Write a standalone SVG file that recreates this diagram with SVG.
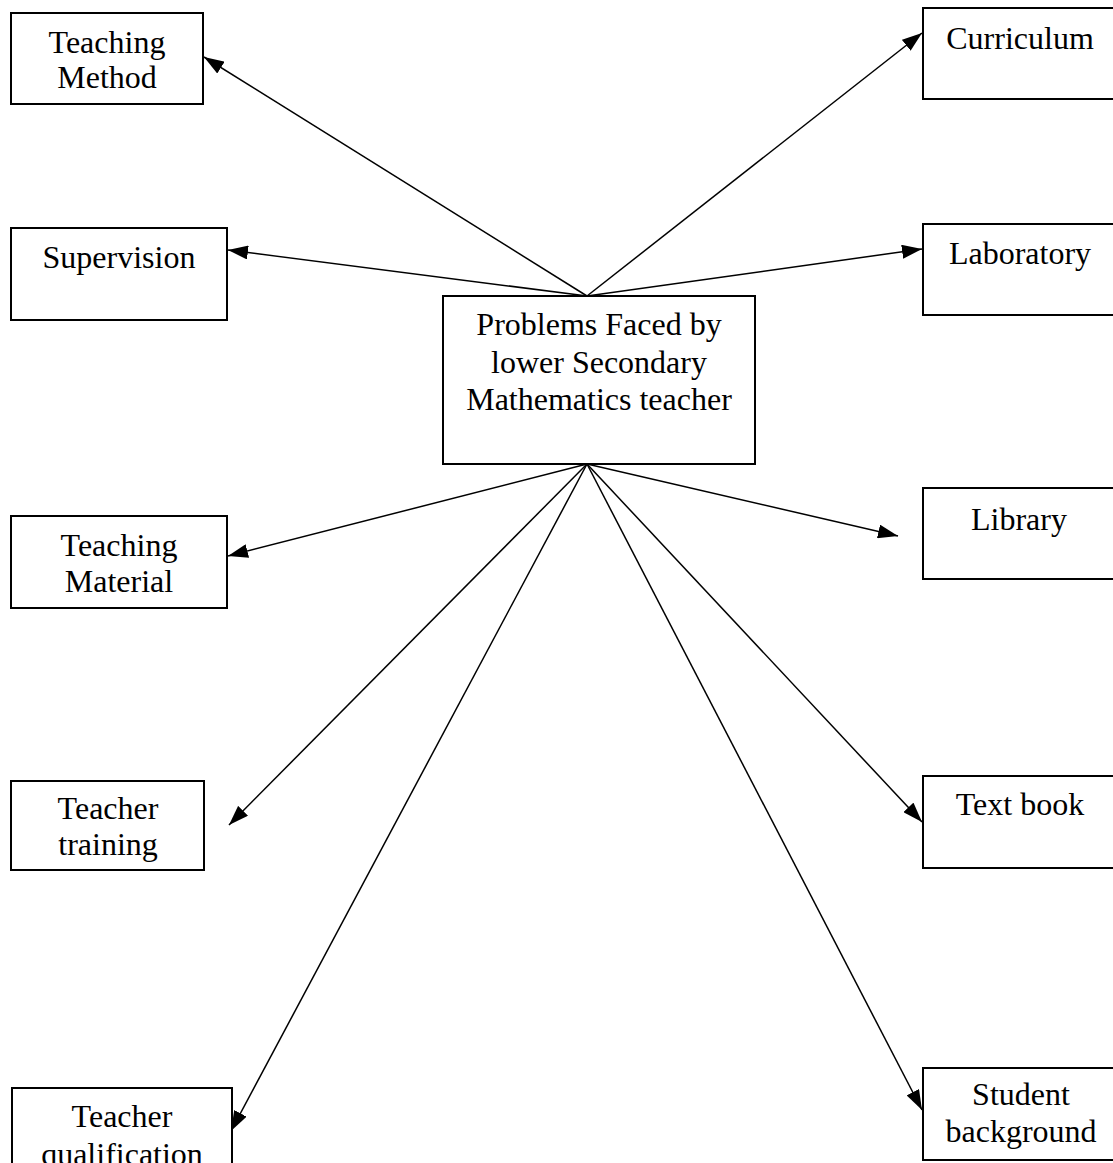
<svg xmlns="http://www.w3.org/2000/svg" width="1113" height="1163" viewBox="0 0 1113 1163">
<style>
.box{fill:#fff;stroke:#000;stroke-width:2}
.lbl{font-family:"Liberation Serif","Times New Roman",serif;font-size:32px;fill:#000;text-anchor:middle}
.con{stroke:#000;stroke-width:1.5;fill:none;marker-end:url(#ah)}
</style>
<defs>
<marker id="ah" markerUnits="userSpaceOnUse" markerWidth="20" markerHeight="14" refX="20" refY="7" orient="auto">
<path d="M0,0 L20,7 L0,14 z" fill="#000"/>
</marker>
</defs>
<rect width="1113" height="1163" fill="#fff"/>
<g id="connectors">
<line class="con" x1="587" y1="296" x2="204" y2="57"/>
<line class="con" x1="587" y1="296" x2="922" y2="33"/>
<line class="con" x1="587" y1="296" x2="228" y2="250"/>
<line class="con" x1="587" y1="296" x2="922" y2="249"/>
<line class="con" x1="587" y1="464" x2="228" y2="556"/>
<line class="con" x1="587" y1="464" x2="898" y2="536"/>
<line class="con" x1="587" y1="464" x2="229" y2="825"/>
<line class="con" x1="587" y1="464" x2="922" y2="822"/>
<line class="con" x1="587" y1="464" x2="231" y2="1131"/>
<line class="con" x1="587" y1="464" x2="922" y2="1110"/>
</g>
<g id="center">
<rect class="box" x="443" y="296" width="312" height="168"/>
<text class="lbl" x="599" y="335">Problems Faced by</text>
<text class="lbl" x="599" y="373">lower Secondary</text>
<text class="lbl" x="599" y="410">Mathematics teacher</text>
</g>
<g id="teaching-method">
<rect class="box" x="11" y="13" width="192" height="91"/>
<text class="lbl" x="107" y="53">Teaching</text>
<text class="lbl" x="107" y="88">Method</text>
</g>
<g id="curriculum">
<rect class="box" x="923" y="8" width="194" height="91"/>
<text class="lbl" x="1020" y="49">Curriculum</text>
</g>
<g id="supervision">
<rect class="box" x="11" y="228" width="216" height="92"/>
<text class="lbl" x="119" y="268">Supervision</text>
</g>
<g id="laboratory">
<rect class="box" x="923" y="224" width="194" height="91"/>
<text class="lbl" x="1020" y="264">Laboratory</text>
</g>
<g id="teaching-material">
<rect class="box" x="11" y="516" width="216" height="92"/>
<text class="lbl" x="119" y="556">Teaching</text>
<text class="lbl" x="119" y="592">Material</text>
</g>
<g id="library">
<rect class="box" x="923" y="488" width="194" height="91"/>
<text class="lbl" x="1019" y="530">Library</text>
</g>
<g id="teacher-training">
<rect class="box" x="11" y="781" width="193" height="89"/>
<text class="lbl" x="108" y="819">Teacher</text>
<text class="lbl" x="108" y="855">training</text>
</g>
<g id="text-book">
<rect class="box" x="923" y="776" width="194" height="92"/>
<text class="lbl" x="1020" y="815">Text book</text>
</g>
<g id="teacher-qualification">
<rect class="box" x="12" y="1088" width="220" height="90"/>
<text class="lbl" x="122" y="1127">Teacher</text>
<text class="lbl" x="122" y="1165">qualification</text>
</g>
<g id="student-background">
<rect class="box" x="923" y="1068" width="194" height="92"/>
<text class="lbl" x="1021" y="1105">Student</text>
<text class="lbl" x="1021" y="1142">background</text>
</g>
</svg>
